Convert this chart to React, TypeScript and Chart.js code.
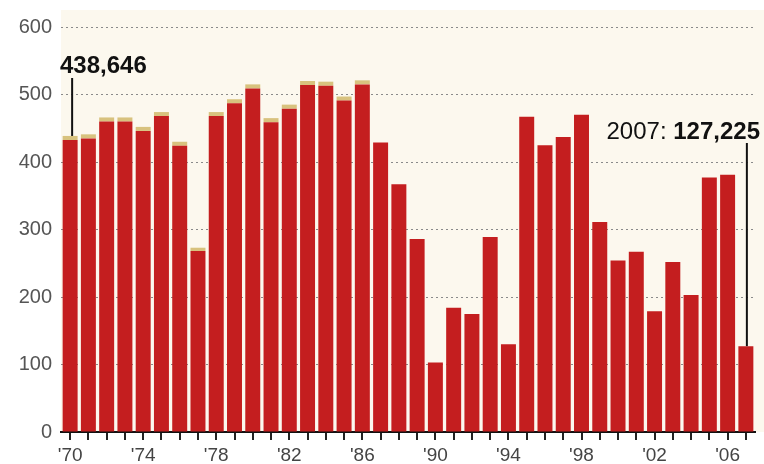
import React, { useEffect, useRef } from "react";
import { Chart, registerables } from "chart.js";

Chart.register(...registerables);

const years: number[] = [1970,1971,1972,1973,1974,1975,1976,1977,1978,1979,1980,1981,1982,1983,1984,1985,1986,1987,1988,1989,1990,1991,1992,1993,1994,1995,1996,1997,1998,1999,2000,2001,2002,2003,2004,2005,2006,2007];
// totals, in thousands
const totals: number[] = [438.6,441,466,466,452,474,430,273,474,493,515,465,485,520,519,497,521,429,367,286,103,184,175,289,130,467,425,437,470,311,254,267,179,252,203,377,381,127.2];
// small tan cap on top of the early bars (thousands)
const caps: number[] = [6,6,6,6,6,6,6,5,6,6,6,6,6,6,6,6,6,0,0,0,0,0,0,0,0,0,0,0,0,0,0,0,0,0,0,0,0,0];
const yTicks: number[] = [0,100,200,300,400,500,600];
const firstLabel = "438,646";
const lastLabelYear = "2007: ";
const lastLabelValue = "127,225";

const tickFont = "'Liberation Sans', Arial, sans-serif";
const annFont = "'Liberation Sans', Arial, sans-serif";

export default function App() {
  const ref = useRef<HTMLCanvasElement | null>(null);
  useEffect(() => {
    document.body.style.margin = "0";
    const labels = years.map((y) => "'" + String(y).slice(2));
    const base = totals.map((t, i) => t - caps[i]);
    const annot = {
      id: "annot",
      afterDatasetsDraw(chart: any) {
        const ctx = chart.ctx;
        const xs = chart.scales.x;
        const ys = chart.scales.y;
        ctx.save();
        ctx.strokeStyle = "#111";
        ctx.lineWidth = 2;
        const x0 = xs.getPixelForValue(0) + 2;
        const y0 = ys.getPixelForValue(totals[0]);
        ctx.beginPath();
        ctx.moveTo(x0, 78);
        ctx.lineTo(x0, y0);
        ctx.stroke();
        ctx.fillStyle = "#111";
        ctx.font = "bold 24px " + annFont;
        ctx.textBaseline = "alphabetic";
        ctx.textAlign = "left";
        ctx.fillText(firstLabel, 60, 73);
        const n = totals.length - 1;
        const x1 = xs.getPixelForValue(n) + 1;
        const y1 = ys.getPixelForValue(totals[n]);
        ctx.beginPath();
        ctx.moveTo(x1, 143);
        ctx.lineTo(x1, y1);
        ctx.stroke();
        ctx.font = "bold 24px " + annFont;
        const wv = ctx.measureText(lastLabelValue).width;
        ctx.textAlign = "right";
        ctx.fillText(lastLabelValue, 760, 139);
        ctx.font = "24px " + annFont;
        ctx.fillText(lastLabelYear, 760 - wv, 139);
        ctx.restore();
      },
    };
    const bg = {
      id: "bg",
      beforeDraw(chart: any) {
        const ctx = chart.ctx;
        ctx.save();
        ctx.fillStyle = "#ffffff";
        ctx.fillRect(0, 0, chart.width, chart.height);
        const a = chart.chartArea;
        ctx.fillStyle = "#fcf8ee";
        ctx.fillRect(a.left, 10, chart.width - a.left, a.bottom - 10);
        ctx.restore();
      },
    };
    const chart = new Chart(ref.current as HTMLCanvasElement, {
      type: "bar",
      data: {
        labels,
        datasets: [
          {
            data: base,
            backgroundColor: "#c41e1f",
            barPercentage: 0.82,
            categoryPercentage: 1,
          },
          {
            data: caps,
            backgroundColor: "#d8c27e",
            barPercentage: 0.82,
            categoryPercentage: 1,
          },
        ],
      },
      options: {
        animation: false,
        responsive: false,
        layout: { padding: { top: 27, right: 9, left: 8, bottom: 0 } },
        plugins: { legend: { display: false }, tooltip: { enabled: false } },
        scales: {
          x: {
            stacked: true,
            afterFit(s: any) { s.height = 32; },
            grid: {
              offset: false,
              drawOnChartArea: false,
              drawTicks: true,
              tickLength: 8,
              color: "#222",
              lineWidth: 2,
            },
            border: { display: true, color: "#111", width: 2 },
            ticks: {
              autoSkip: false,
              maxRotation: 0,
              padding: 4,
              color: "#444",
              font: { size: 19, family: tickFont },
              callback: (_v: any, i: number) => (i % 4 === 0 ? labels[i] : ""),
            },
          },
          y: {
            stacked: true,
            min: 0,
            max: 600,
            afterFit(s: any) { s.width = 53; },
            afterBuildTicks(s: any) { s.ticks = yTicks.map((v) => ({ value: v })); },
            border: { display: false, dash: [2, 3] },
            grid: {
              color: (c: any) => (c.tick && c.tick.value === 0 ? "rgba(0,0,0,0)" : "#8a8a8a"),
              lineWidth: 1,
              drawTicks: false,
            },
            ticks: {
              padding: 9,
              color: "#555",
              font: { size: 20, family: tickFont },
            },
          },
        },
      },
      plugins: [bg, annot],
    });
    return () => chart.destroy();
  }, []);
  return (
    <div style={{ width: 764, height: 464 }}>
      <canvas ref={ref} width={764} height={464} style={{ display: "block" }} />
    </div>
  );
}
